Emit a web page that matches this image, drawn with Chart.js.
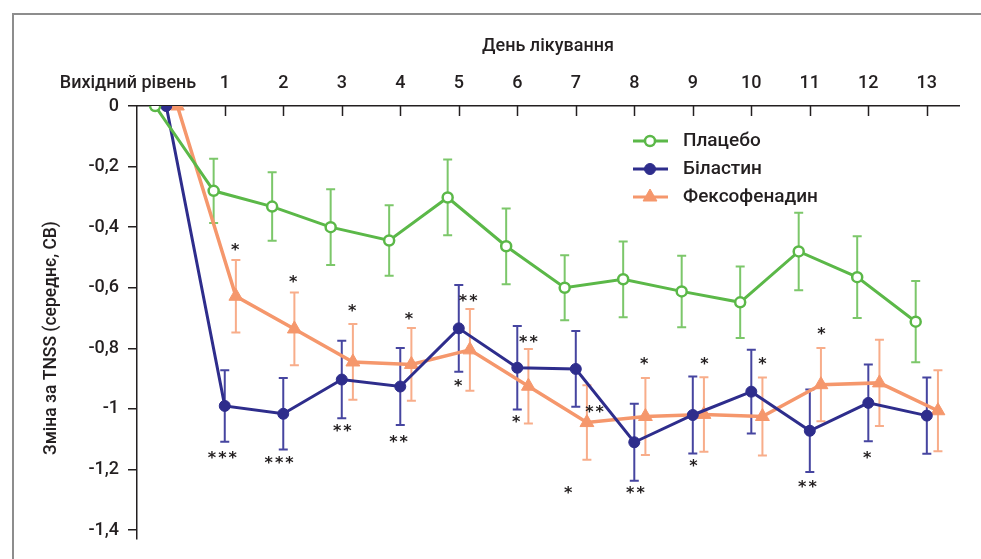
<!DOCTYPE html>
<html>
<head>
<meta charset="utf-8">
<title>TNSS</title>
<script src="https://cdn.jsdelivr.net/npm/chart.js@4.4.0/dist/chart.umd.min.js"></script>
<style>
    body { margin: 0; background: #fff; overflow: hidden; }
    #frame {
        position: absolute; left: 12px; top: 13px; width: 1100px; height: 700px;
        border-left: 2px solid #8d8d8d; border-top: 2px solid #8d8d8d;
    }
    #wrap { position: absolute; left: 0; top: 0; width: 981px; height: 559px; }
</style>
</head>
<body>
<div id="frame"></div>
<div id="wrap"><canvas id="tnssChart"></canvas></div>
<script>
// Days of treatment (0 = baseline)
const days = [0, 1, 2, 3, 4, 5, 6, 7, 8, 9, 10, 11, 12, 13];
const dayTicks = [1, 2, 3, 4, 5, 6, 7, 8, 9, 10, 11, 12, 13];
const yTicks = [0, -0.2, -0.4, -0.6, -0.8, -1, -1.2, -1.4];
const baselineLabel = 'Вихідний рівень';

// Change in TNSS, mean and SD
const placeboMean = [0, -0.28, -0.332, -0.400, -0.444, -0.302, -0.463, -0.600, -0.572, -0.612, -0.648, -0.480, -0.565, -0.712];
const placeboSd = [0, 0.106, 0.113, 0.125, 0.116, 0.125, 0.125, 0.107, 0.125, 0.118, 0.118, 0.128, 0.135, 0.134];
const bilastineMean = [0, -0.990, -1.016, -0.903, -0.926, -0.734, -0.864, -0.868, -1.110, -1.020, -0.943, -1.072, -0.980, -1.022];
const bilastineSd = [0, 0.118, 0.118, 0.128, 0.127, 0.143, 0.138, 0.125, 0.127, 0.127, 0.138, 0.136, 0.127, 0.126];
const fexoMean = [0, -0.628, -0.736, -0.845, -0.853, -0.805, -0.925, -1.045, -1.025, -1.018, -1.025, -0.920, -0.914, -1.006];
const fexoSd = [0, 0.120, 0.120, 0.125, 0.120, 0.135, 0.123, 0.123, 0.127, 0.123, 0.129, 0.121, 0.142, 0.134];

// Significance marks: day position, value, text
const sigDay = [1.18, 2.17, 3.18, 4.15, 5.16, 0.96, 1.93, 3.01, 3.97, 4.99, 6.19, 5.98, 7.32, 6.87, 8.02, 8.17, 9.01, 9.20, 10.19, 11.20, 10.96, 11.98];
const sigValue = [-0.466, -0.570, -0.666, -0.692, -0.633, -1.151, -1.170, -1.062, -1.098, -0.915, -0.770, -1.033, -1.0, -1.266, -1.269, -0.843, -1.177, -0.843, -0.843, -0.744, -1.249, -1.151];
const sigText = ['*', '*', '*', '*', '**', '***', '***', '**', '**', '*', '**', '*', '**', '*', '**', '*', '*', '*', '*', '*', '**', '*'];

const seriesNames = ['Плацебо', 'Біластин', 'Фексофенадин'];
const seriesSd = [placeboSd, bilastineSd, fexoSd];

const GREEN = '#5bb848';
const BLUE = '#2e2d8c';
const ORANGE = '#f5976c';
const TEXT = '#231f20';
const FONT = 'Roboto';

function points(means, shift) {
    return days.map((d, i) => ({ x: d + shift, y: means[i] }));
}

// error bars under the lines
const errorBars = {
    id: 'errorBars',
    beforeDatasetsDraw(chart) {
        const { ctx, scales: { x, y } } = chart;
        chart.data.datasets.forEach((ds, i) => {
            const sd = seriesSd[i];
            ctx.save();
            ctx.strokeStyle = ds.errorColor;
            ctx.lineWidth = 2;
            ds.data.forEach((p, j) => {
                if (!sd[j]) return;
                const px = x.getPixelForValue(p.x);
                const top = y.getPixelForValue(p.y + sd[j]);
                const bot = y.getPixelForValue(p.y - sd[j]);
                ctx.beginPath();
                ctx.moveTo(px, top); ctx.lineTo(px, bot);
                ctx.moveTo(px - 4.5, top); ctx.lineTo(px + 4.5, top);
                ctx.moveTo(px - 4.5, bot); ctx.lineTo(px + 4.5, bot);
                ctx.stroke();
            });
            ctx.restore();
        });
    }
};

// asterisks, legend, inner x ticks, baseline label, y title
const decorations = {
    id: 'decorations',
    afterDatasetsDraw(chart) {
        const { ctx, scales: { x, y } } = chart;
        ctx.save();
        ctx.fillStyle = TEXT;
        ctx.font = 'bold 16px "DejaVu Sans"';
        ctx.letterSpacing = '2px';
        ctx.textAlign = 'center';
        ctx.textBaseline = 'alphabetic';
        sigText.forEach((t, i) => {
            const m = ctx.measureText(t);
            const cy = y.getPixelForValue(sigValue[i]);
            ctx.fillText(t, x.getPixelForValue(sigDay[i]) + 1, cy + (m.actualBoundingBoxAscent - m.actualBoundingBoxDescent) / 2);
        });
        ctx.restore();
    },
    afterDraw(chart) {
        const { ctx, chartArea, scales: { x, y } } = chart;
        ctx.save();
        // x ticks pointing into the plot
        ctx.strokeStyle = TEXT;
        ctx.lineWidth = 1.5;
        dayTicks.forEach(d => {
            const px = Math.round(x.getPixelForValue(d)) + 0.5;
            ctx.beginPath();
            ctx.moveTo(px, chartArea.top);
            ctx.lineTo(px, chartArea.top + 10);
            ctx.stroke();
        });
        // baseline label
        ctx.fillStyle = TEXT;
        ctx.font = '500 18px ' + FONT;
        ctx.textAlign = 'right';
        ctx.textBaseline = 'middle';
        ctx.fillText(baselineLabel, x.getPixelForValue(0) + 30, 83);
        // y axis title
        ctx.translate(52, 338);
        ctx.rotate(-Math.PI / 2);
        ctx.textAlign = 'center';
        ctx.font = '500 17.5px ' + FONT;
        ctx.fillText('Зміна за TNSS (середнє, СВ)', 0, 0);
        ctx.restore();

        // legend
        ctx.save();
        chart.data.datasets.forEach((ds, i) => {
            const ly = 141 + i * 28;
            ctx.strokeStyle = ds.borderColor;
            ctx.lineWidth = 3;
            ctx.beginPath();
            ctx.moveTo(633, ly); ctx.lineTo(668, ly);
            ctx.stroke();
            ctx.fillStyle = ds.pointBackgroundColor;
            ctx.strokeStyle = ds.pointBorderColor;
            ctx.lineWidth = ds.pointBorderWidth;
            Chart.helpers.drawPoint(ctx, { pointStyle: ds.pointStyle, radius: ds.pointRadius, rotation: 0, borderWidth: ds.pointBorderWidth }, 650, ly);
            ctx.fillStyle = TEXT;
            ctx.font = '500 19px ' + FONT;
            ctx.textAlign = 'left';
            ctx.textBaseline = 'middle';
            ctx.fillText(seriesNames[i], 683, ly);
        });
        ctx.restore();
    }
};

Chart.defaults.font.family = FONT;
Chart.defaults.font.size = 18;
Chart.defaults.font.weight = '500';
Chart.defaults.color = TEXT;

const tnssChart = new Chart(document.getElementById('tnssChart').getContext('2d'), {
    type: 'line',
    data: {
        datasets: [{
            label: seriesNames[0],
            data: points(placeboMean, -0.19),
            borderColor: GREEN,
            borderWidth: 3,
            pointStyle: 'circle',
            pointRadius: 5,
            pointBorderWidth: 2.5,
            pointBackgroundColor: '#fff',
            pointBorderColor: GREEN,
            errorColor: '#7cc76a',
            tension: 0
        }, {
            label: seriesNames[1],
            data: points(bilastineMean, 0),
            borderColor: BLUE,
            borderWidth: 3,
            pointStyle: 'circle',
            pointRadius: 5.5,
            pointBorderWidth: 1,
            pointBackgroundColor: BLUE,
            pointBorderColor: BLUE,
            errorColor: '#4645a0',
            tension: 0
        }, {
            label: seriesNames[2],
            data: points(fexoMean, 0.19),
            borderColor: ORANGE,
            borderWidth: 3.5,
            pointStyle: 'triangle',
            pointRadius: 8,
            pointBorderWidth: 1,
            pointBackgroundColor: ORANGE,
            pointBorderColor: ORANGE,
            errorColor: '#f8ad8a',
            tension: 0
        }]
    },
    options: {
        responsive: true,
        maintainAspectRatio: false,
        animation: false,
        layout: { padding: { left: 0, top: 0, right: 22, bottom: 17 } },
        plugins: {
            legend: { display: false },
            tooltip: { enabled: false }
        },
        scales: {
            x: {
                type: 'linear',
                position: 'top',
                min: -0.5,
                max: 13.55,
                afterBuildTicks: scale => { scale.ticks = dayTicks.map(v => ({ value: v })); },
                afterFit: scale => { scale.height = 106; },
                grid: { drawOnChartArea: false, drawTicks: false },
                border: { color: TEXT, width: 1.5 },
                ticks: { padding: 12, font: { size: 18, weight: '500' }, color: TEXT },
                title: {
                    display: true,
                    text: 'День лікування',
                    font: { size: 18, weight: '500' },
                    color: TEXT,
                    padding: { top: 36, bottom: 0 }
                }
            },
            y: {
                min: -1.43,
                max: 0,
                afterBuildTicks: scale => { scale.ticks = yTicks.map(v => ({ value: v })); },
                afterFit: scale => { scale.width = 137; },
                grid: { drawOnChartArea: false, drawTicks: true, tickLength: 9, color: TEXT, lineWidth: 1.5 },
                border: { color: TEXT, width: 1.5 },
                ticks: {
                    padding: 9,
                    font: { size: 18, weight: '500' },
                    color: TEXT,
                    callback: v => String(Math.round(v * 10) / 10).replace('.', ',')
                }
            }
        }
    },
    plugins: [errorBars, decorations]
});
</script>
</body>
</html>
